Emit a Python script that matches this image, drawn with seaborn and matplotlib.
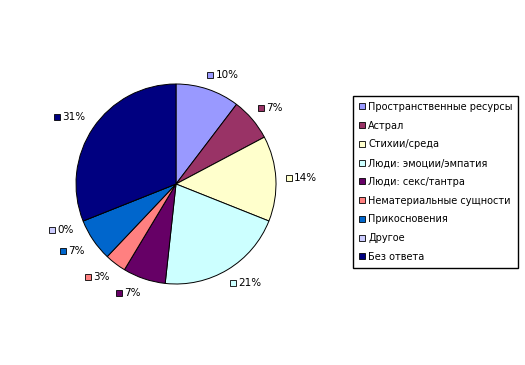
import matplotlib
matplotlib.use('Agg')
import matplotlib.pyplot as plt
import matplotlib.transforms as mtransforms
from matplotlib.lines import Line2D
import numpy as np
import seaborn as sns

### Data
categories = [
    'Пространственные ресурсы',
    'Астрал',
    'Стихии/среда',
    'Люди: эмоции/эмпатия',
    'Люди: секс/тантра',
    'Нематериальные сущности',
    'Прикосновения',
    'Другое',
    'Без ответа',
]
counts = [3, 2, 4, 6, 2, 1, 2, 0, 9]
pct_labels = ['10%', '7%', '14%', '21%', '7%', '3%', '7%', '0%', '31%']
colors = ['#9999FF', '#993366', '#FFFFCC', '#CCFFFF', '#660066',
          '#FF8080', '#0066CC', '#CCCCFF', '#000080']

sns.set_theme(style='white')
plt.rcParams['font.family'] = ['DejaVu Sans']
plt.rcParams['text.color'] = 'black'

W, H = 525, 365
fig = plt.figure(figsize=(W / 100, H / 100), dpi=100)
fig.patch.set_facecolor('white')

# pie centred at (176, 184) px, radius 100 px
cx, cy, half = 176, 184, 140
ax = fig.add_axes([(cx - half) / W, (H - cy - half) / H, 2 * half / W, 2 * half / H])

wedges, _ = ax.pie(counts, colors=colors, startangle=90, counterclock=False,
                   wedgeprops=dict(edgecolor='black', linewidth=0.7))
ax.set_xlim(-1.4, 1.4)
ax.set_ylim(-1.4, 1.4)
ax.axis('off')

# percentage labels with little coloured squares, Excel style:
# the label box corner nearest the pie sits on the anchor point
texts = []
for w, lab in zip(wedges, pct_labels):
    mid = np.deg2rad((w.theta1 + w.theta2) / 2)
    right = np.cos(mid) >= 0
    y = 1.1 * np.sin(mid)
    va = 'bottom' if np.sin(mid) > 0 else 'top'
    if abs(np.sin(mid)) < 0.2:
        va = 'center'
    if right:
        x = 1.15 * np.cos(mid)
        tr = mtransforms.offset_copy(ax.transData, fig=fig, x=2, units='points')
        t = ax.text(x, y, lab, transform=tr, ha='left', va=va, fontsize=7.5,
                    color='black')
    else:
        x = 1.1 * np.cos(mid)
        t = ax.text(x, y, lab, ha='right', va=va, fontsize=7.5, color='black')
    texts.append((t, w.get_facecolor()))

fig.canvas.draw()
renderer = fig.canvas.get_renderer()
inv = ax.transData.inverted()
for t, fc in texts:
    bb = t.get_window_extent(renderer)
    mx, my = inv.transform((bb.x0 - 5, (bb.y0 + bb.y1) / 2))
    ax.plot(mx, my, marker='s', markersize=4.3, markerfacecolor=fc,
            markeredgecolor='black', markeredgewidth=0.6, linestyle='none')

handles = [Line2D([], [], marker='s', linestyle='none', markersize=4.3,
                  markerfacecolor=c, markeredgecolor='black', markeredgewidth=0.6)
           for c in colors]
leg = fig.legend(handles, categories, loc='upper left',
                 bbox_to_anchor=(353 / W, 1 - 96 / H), fontsize=7,
                 frameon=True, fancybox=False, edgecolor='black', framealpha=1,
                 labelspacing=0.9, handlelength=0.6, handletextpad=0.35,
                 borderpad=0.6, borderaxespad=0, labelcolor='black')
leg.get_frame().set_linewidth(1.0)

fig.savefig('out.png', dpi=100, facecolor='white')
